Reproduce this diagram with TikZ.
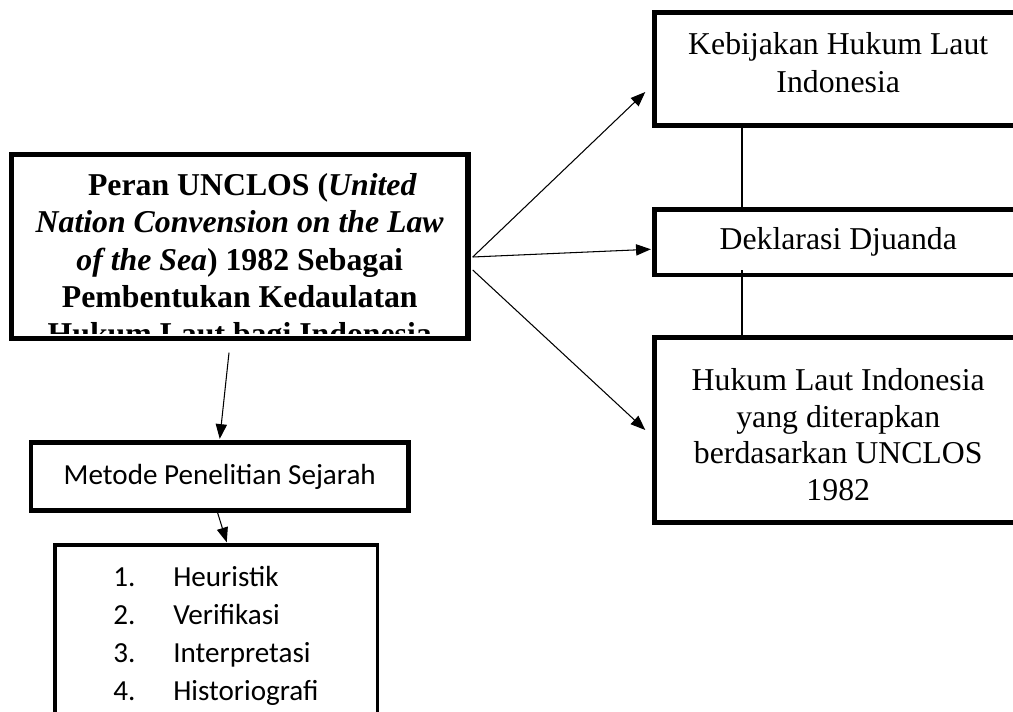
\documentclass[tikz,border=0pt]{standalone}
\usepackage{fontspec}
\setmainfont{Liberation Serif}
\newfontfamily\calibrifont{Carlito}
\usetikzlibrary{arrows.meta,calc}
\definecolor{boxink}{HTML}{000000}
\newcommand{\stepnum}[1]{\makebox[42.7pt][l]{#1}}

\begin{document}
\begin{tikzpicture}[x=0.025cm,y=-0.025cm,
    thickbox/.style={draw=boxink,line width=3.8pt,rectangle,inner sep=0pt,align=center,
      font=\fontsize{22.6}{26}\selectfont},
    thinbox/.style={draw=boxink,line width=3pt,rectangle,inner sep=0pt,align=center},
    linkarrow/.style={draw=boxink,line width=.75pt,-{Triangle[length=10.5pt,width=8pt]}},
    linkline/.style={draw=boxink,line width=.75pt}]
    \path[use as bounding box] (0,0) rectangle (1013,711);
    \clip (0,0) rectangle (1013,711);

    % The title box; its last line runs under the lower edge.
    \node[thickbox,minimum width=11.4125cm,minimum height=4.6cm] (main) at (239.75,246.5) {};
    \begin{scope}
      \clip ($(main.north west)+(4,3)$) rectangle ($(main.south east)+(-4,-7.5)$);
      \node[anchor=north,inner sep=0pt,align=center,
        font=\bfseries\fontsize{22.6}{26.6}\selectfont] (maintitle) at (239.75,173)
        {\hspace*{.8em}Peran UNCLOS (\textit{United}\\
         \textit{Nation Convension on the Law}\\
         \textit{of the Sea}) 1982 Sebagai\\
         Pembentukan Kedaulatan\\
         Hukum Laut bagi Indonesia};
    \end{scope}

    % Right-hand column of results.
    \node[thickbox,minimum width=9.1875cm,minimum height=2.825cm,
      font=\fontsize{22.6}{27.5}\selectfont] (kebijakan) at (838.25,69)
      {Kebijakan Hukum Laut\\Indonesia\\[-18pt]\mbox{}};
    \node[thinbox,minimum width=9.1875cm,minimum height=1.6375cm,
      font=\fontsize{22.6}{27}\selectfont] (deklarasi) at (838.25,242.25)
      {Deklarasi Djuanda};
    \node[thickbox,minimum width=9.1875cm,minimum height=4.625cm] (hukum) at (838.25,430)
      {\mbox{}\\[-3.6pt]Hukum Laut Indonesia\\yang diterapkan\\berdasarkan UNCLOS\\1982};

    % Method and its four steps.
    \node[thinbox,minimum width=9.4375cm,minimum height=1.7cm,
      font=\calibrifont\fontsize{20.7}{27}\selectfont] (metode) at (219.75,476.5)
      {Metode Penelitian Sejarah};
    \node[thinbox,line width=2.4pt,minimum width=8.0625cm,minimum height=4.875cm] (steps)
      at (216.25,642.5) {};
    \node[anchor=north west,inner sep=0pt,align=left,
      font=\calibrifont\fontsize{20.7}{27}\selectfont] (steplist) at (113,566)
      {\stepnum{1.}Heuristik\\
       \stepnum{2.}Verifikasi\\
       \stepnum{3.}Interpretasi\\
       \stepnum{4.}Historiografi};

    % Arrows out of the title box.
    \draw[linkarrow] ($(main.east)+(2,10.5)$) -- ($(kebijakan.west)+(-6.5,23)$);
    \draw[linkarrow] ($(main.east)+(2,10.5)$) -- ($(deklarasi.west)+(-1.5,7)$);
    \draw[linkarrow] ($(main.east)+(2,23.5)$) -- ($(hukum.west)+(-6.5,0)$);
    \draw[linkarrow] ($(main.south)+(-10.75,11.5)$) -- ($(metode.north)+(0,-1.5)$);
    \draw[linkarrow] ($(metode.south)+(-2.5,-1)$) -- ($(steps.north)+(10.5,-1)$);

    % Plain links down the right column.
    \coordinate (spine) at (742,0);
    \draw[linkline] (spine |- kebijakan.south) -- (spine |- deklarasi.north);
    \draw[linkline] ($(spine |- deklarasi.south)+(0,-7)$) -- (spine |- hukum.north);
\end{tikzpicture}
\end{document}
